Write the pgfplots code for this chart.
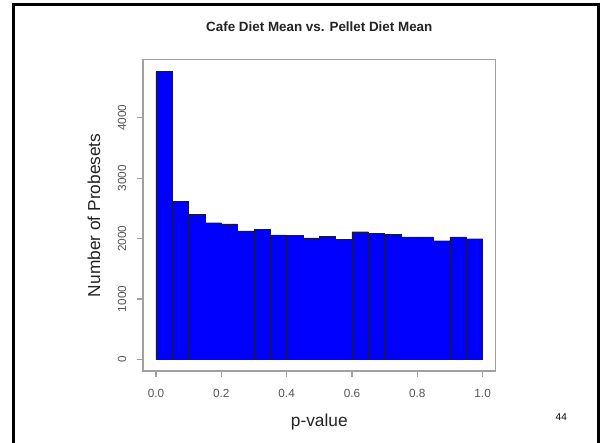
\documentclass[border=0pt]{standalone}
\usepackage{fontspec}
\setmainfont{Liberation Sans}
\usepackage{pgfplots}
\pgfplotsset{compat=1.18}

\definecolor{boxgray}{RGB}{160,160,160}
\definecolor{ticktext}{RGB}{85,85,85}
\definecolor{labeltext}{RGB}{35,35,35}
\definecolor{barblue}{RGB}{0,0,255}
\definecolor{baredge}{RGB}{20,20,90}

% p-value histogram: counts per bin of width 0.05 (last entry closes the final bin)
\pgfplotstableread{
x     count
0.00  4762
0.05  2616
0.10  2401
0.15  2262
0.20  2245
0.25  2129
0.30  2152
0.35  2063
0.40  2058
0.45  2013
0.50  2041
0.55  1987
0.60  2113
0.65  2086
0.70  2075
0.75  2030
0.80  2028
0.85  1964
0.90  2030
0.95  1997
1.00  1997
}\pvalhist

\begin{document}
\begin{tikzpicture}[x=1pt,y=1pt]
  \path[use as bounding box] (0,0) rectangle (602,-442);
  % slide frame
  \draw[line width=2.8pt, black] (13.5,-445) -- (13.5,-4.6) -- (598.6,-4.6) -- (598.6,-445);

  \begin{axis}[
    at={(142.9pt,-370.9pt)}, anchor=south west,
    scale only axis,
    width=352.8pt, height=311.2pt,
    xmin=-0.04, xmax=1.04,
    ymin=-190.8, ymax=4960.8,
    axis line style={boxgray, line width=1.2pt},
    tick align=outside,
    major tick length=6pt,
    tick style={boxgray, line width=1.1pt},
    xtick={0,0.2,0.4,0.6,0.8,1.0},
    xticklabels={0.0,0.2,0.4,0.6,0.8,1.0},
    ytick={0,1000,2000,3000,4000},
    yticklabels={0,1000,2000,3000,4000},
    xtick pos=bottom, ytick pos=left,
    ticklabel style={font=\fontsize{11.8}{12}\selectfont, text=ticktext, inner sep=0pt},
    xticklabel style={anchor=north},
    yticklabel style={rotate=90, anchor=south},
    xticklabel shift=12pt,
    yticklabel shift=10.5pt,
    title={Cafe Diet Mean vs. Pellet Diet Mean},
    title style={font=\bfseries\fontsize{13.4}{14}\selectfont, text=labeltext,
      at={(axis description cs:0.5,1.0858)}, anchor=center, inner sep=0pt},
    xlabel={p-value},
    xlabel style={font=\fontsize{17.3}{18}\selectfont, text=labeltext,
      at={(axis description cs:0.5,-0.1632)}, anchor=center, inner sep=0pt},
    ylabel={Number of Probesets},
    ylabel style={font=\fontsize{17.3}{18}\selectfont, text=labeltext,
      at={(axis description cs:-0.1386,0.5)}, anchor=center, rotate=0, inner sep=0pt},
    clip=false,
  ]
    \addplot[ybar interval, fill=barblue, draw=baredge, line width=0.45pt]
      table[x=x, y=count] {\pvalhist};
  \end{axis}

  % page number
  \node[font=\fontsize{10}{12}\selectfont, inner sep=0pt] at (561.3,-416.7) {44};
\end{tikzpicture}
\end{document}
